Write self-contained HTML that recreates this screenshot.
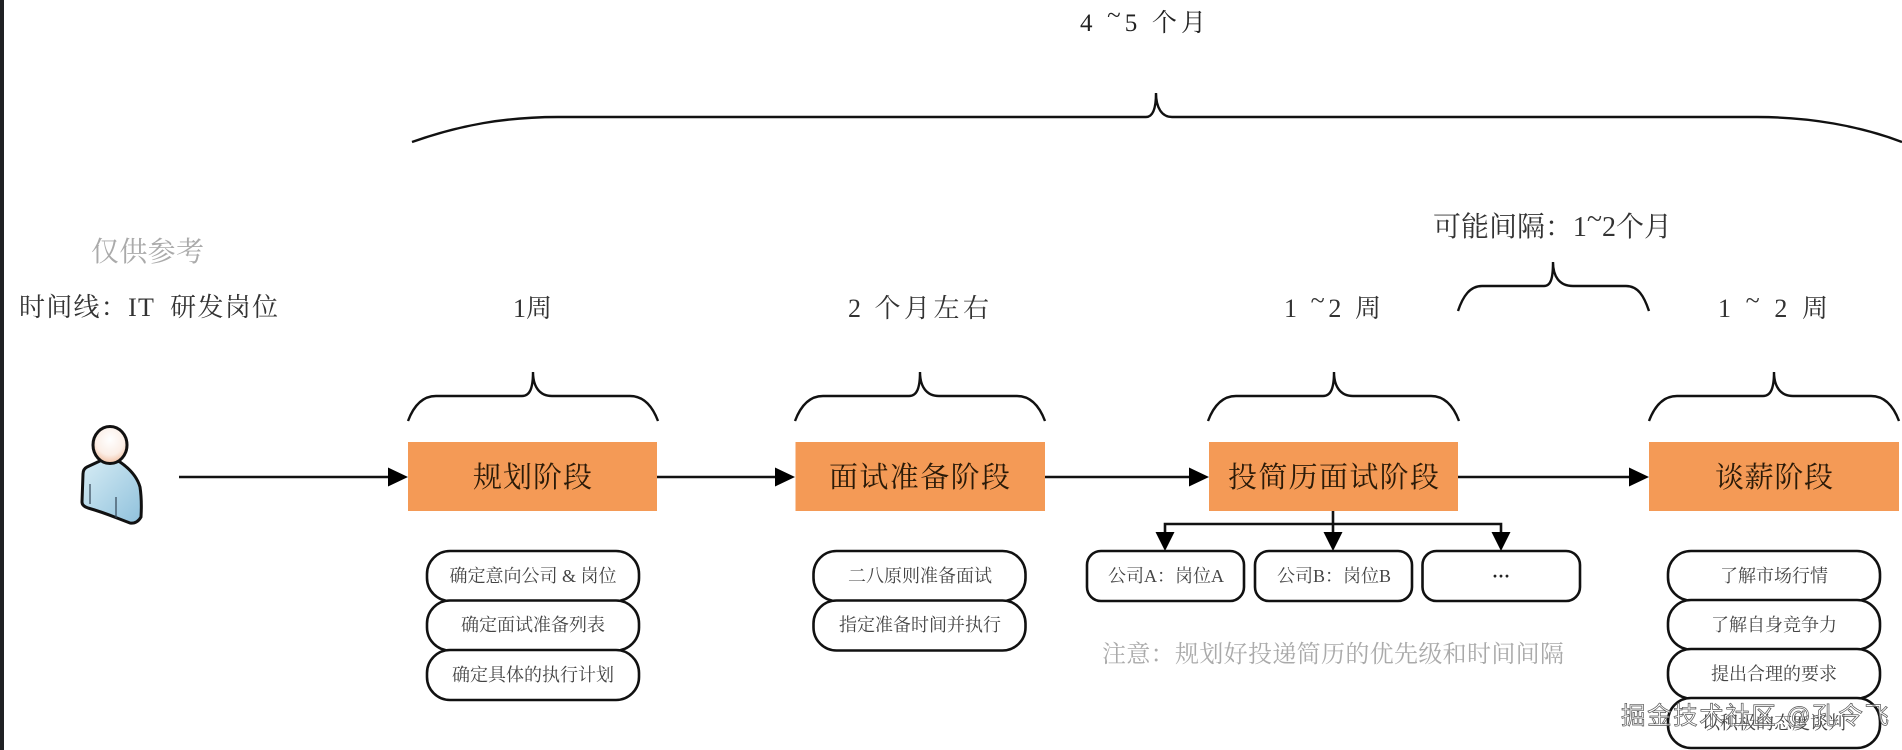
<!DOCTYPE html>
<html lang="zh">
<head>
<meta charset="utf-8">
<style>
html,body{margin:0;padding:0;background:#fff;width:1902px;height:750px;overflow:hidden}
svg{display:block;filter:blur(.35px)}
text{font-family:"Liberation Serif","Noto Serif CJK SC",serif;fill:#222;dominant-baseline:alphabetic}
.h{font-size:29px;fill:#2a1a08}
.s{font-size:18px;fill:#444;text-anchor:middle}
.t{font-size:26px;fill:#333}
.g{font-size:24px;fill:#aaa}
.b{fill:none;stroke:#111;stroke-width:2.4}
.l{fill:none;stroke:#111;stroke-width:2.6}
.r{fill:#fff;stroke:#111;stroke-width:2.6}
.wm{font-family:"Liberation Sans","Noto Sans CJK SC",sans-serif;font-size:24.5px;fill:#fff;fill-opacity:.6;stroke:#555;stroke-width:.7}
</style>
</head>
<body>
<svg width="1902" height="750" viewBox="0 0 1902 750" xmlns="http://www.w3.org/2000/svg">
<defs>
<radialGradient id="hd" cx="50%" cy="35%" r="70%"><stop offset="0" stop-color="#fff"/><stop offset=".6" stop-color="#fbeee6"/><stop offset="1" stop-color="#efb694"/></radialGradient>
<linearGradient id="bd" x1="0" y1="0" x2="1" y2="1"><stop offset="0" stop-color="#d8edf5"/><stop offset="1" stop-color="#8fc1dc"/></linearGradient>
</defs>
<rect x="0" y="0" width="1902" height="750" fill="#fff"/>
<rect x="0" y="0" width="4" height="750" fill="#1f2124"/>

<!-- top -->
<text x="1080" y="31" font-size="25" textLength="126" lengthAdjust="spacing" xml:space="preserve">4 <tspan dy="-8">~</tspan><tspan dy="8">5 个月</tspan></text>
<path class="b" d="M412 142 C460 125 505 117 558 117 L1146 117 C1152 117 1156 110 1156 93 C1156 108 1162 117 1172 117 L1757 117 C1810 117 1860 126 1902 142"/>

<!-- left labels -->
<text x="91" y="261" font-size="28" style="fill:#aaa" textLength="113" lengthAdjust="spacing">仅供参考</text>
<text x="19" y="316" class="t" textLength="259" lengthAdjust="spacing" xml:space="preserve">时间线：IT  研发岗位</text>

<!-- duration labels -->
<text x="513" y="317" class="t" textLength="39" lengthAdjust="spacing">1周</text>
<text x="848" y="317" class="t" textLength="141" lengthAdjust="spacing" xml:space="preserve">2 个月左右</text>
<text x="1284" y="317" class="t" textLength="97" lengthAdjust="spacing" xml:space="preserve">1 <tspan dy="-8">~</tspan><tspan dy="8">2 周</tspan></text>
<text x="1433" y="236" font-size="28" style="fill:#333" textLength="239" lengthAdjust="spacing">可能间隔：1<tspan dy="-8">~</tspan><tspan dy="8">2个月</tspan></text>
<text x="1718" y="317" class="t" textLength="110" lengthAdjust="spacing" xml:space="preserve">1 <tspan dy="-8">~</tspan><tspan dy="8"> 2 周</tspan></text>

<!-- braces -->
<path class="b" d="M408 421 C414 405 423 396 436 396 L522 396 C530 396 533 388 533 372 C533 386 539 396 552 396 L630 396 C643 396 652 405 658 421"/>
<path class="b" d="M795 421 C801 405 810 396 823 396 L909 396 C917 396 920 388 920 372 C920 386 926 396 939 396 L1017 396 C1030 396 1039 405 1045 421"/>
<path class="b" d="M1208 421 C1214 405 1223 396 1236 396 L1323 396 C1331 396 1334 388 1334 372 C1334 386 1340 396 1353 396 L1431 396 C1444 396 1453 405 1459 421"/>
<path class="b" d="M1458 311 C1463 296 1470 286 1482 286 L1544 286 C1551 286 1553 278 1553 262 C1553 276 1559 286 1573 286 L1626 286 C1638 286 1644 296 1649 311"/>
<path class="b" d="M1649 421 C1655 405 1664 396 1677 396 L1763 396 C1771 396 1774 388 1774 372 C1774 386 1780 396 1793 396 L1871 396 C1884 396 1893 405 1899 421"/>

<!-- connectors -->
<path class="l" d="M179 477H390M657 477H777M1045 477H1190M1458 477H1631"/>
<path d="M388 467.5L408 477L388 486.5ZM775 467.5L795 477L775 486.5ZM1189 467.5L1209 477L1189 486.5ZM1629 467.5L1649 477L1629 486.5Z" fill="#000"/>

<!-- stage boxes -->
<g fill="#f49a56">
<rect x="408" y="442" width="249" height="69"/>
<rect x="795.5" y="442" width="249.5" height="69"/>
<rect x="1209" y="442" width="249" height="69"/>
<rect x="1649" y="442" width="250" height="69"/>
</g>
<text x="473" y="487" class="h" textLength="119" lengthAdjust="spacing">规划阶段</text>
<text x="829" y="487" class="h" textLength="181" lengthAdjust="spacing">面试准备阶段</text>
<text x="1228" y="487" class="h" textLength="211" lengthAdjust="spacing">投简历面试阶段</text>
<text x="1715" y="487" class="h" textLength="118" lengthAdjust="spacing">谈薪阶段</text>

<!-- fork -->
<path class="l" d="M1333 511V535M1165 535V524H1501V535"/>
<path d="M1155.500 532H1174.500L1165 551ZM1323.500 532H1342.500L1333 551ZM1491.500 532H1510.500L1501 551Z" fill="#000"/>

<!-- stack 1 -->
<g>
<rect class="r" x="427" y="551" width="212" height="50" rx="23"/>
<rect class="r" x="427" y="600.500" width="212" height="50" rx="23"/>
<rect class="r" x="427" y="650" width="212" height="50" rx="23"/>
<text x="533" y="582" class="s" xml:space="preserve">确定意向公司 &amp; 岗位</text>
<text x="533" y="631" class="s">确定面试准备列表</text>
<text x="533" y="681" class="s">确定具体的执行计划</text>
</g>
<!-- stack 2 -->
<rect class="r" x="813.500" y="551" width="212" height="50" rx="23"/>
<rect class="r" x="813.500" y="600.500" width="212" height="50" rx="23"/>
<text x="920" y="582" class="s">二八原则准备面试</text>
<text x="920" y="631" class="s">指定准备时间并执行</text>

<!-- fork boxes -->
<rect class="r" x="1087" y="551" width="157" height="50" rx="14"/>
<rect class="r" x="1255" y="551" width="157" height="50" rx="14"/>
<rect class="r" x="1422.500" y="551" width="157.500" height="50" rx="14"/>
<text x="1166" y="582" class="s">公司A：岗位A</text>
<text x="1334" y="582" class="s">公司B：岗位B</text>
<text x="1501" y="582" class="s" style="font-weight:bold;fill:#222">···</text>
<text x="1102" y="662" class="g" textLength="462" lengthAdjust="spacing">注意：规划好投递简历的优先级和时间间隔</text>

<!-- stack 5 -->
<rect class="r" x="1668" y="551" width="212" height="49.500" rx="23"/>
<rect class="r" x="1668" y="600" width="212" height="49.500" rx="23"/>
<rect class="r" x="1668" y="649" width="212" height="49.500" rx="23"/>
<rect class="r" x="1668" y="698" width="212" height="50" rx="23"/>
<text x="1774" y="582" class="s">了解市场行情</text>
<text x="1774" y="631" class="s">了解自身竞争力</text>
<text x="1774" y="680" class="s">提出合理的要求</text>
<text x="1774" y="729" class="s">以积极的态度谈判</text>

<!-- watermark -->
<text x="1621" y="724" class="wm" textLength="268" lengthAdjust="spacing">掘金技术社区 @孔令飞</text>

<!-- person -->
<path d="M102 460 L87 467 Q83 469 83 474 L82 502 Q82 506 88 508 Q102 512 117 518 L130 523 Q137 524 141 517 Q142 500 140 487 Q136 473 120 462 L110 458 Z" fill="url(#bd)" stroke="#111" stroke-width="3" stroke-linejoin="round"/>
<path d="M90 484V504M116 497V518" stroke="#345" stroke-width="1.2" fill="none"/>
<ellipse cx="110" cy="445" rx="17" ry="18.500" fill="url(#hd)" stroke="#111" stroke-width="3"/>
</svg>
</body>
</html>
